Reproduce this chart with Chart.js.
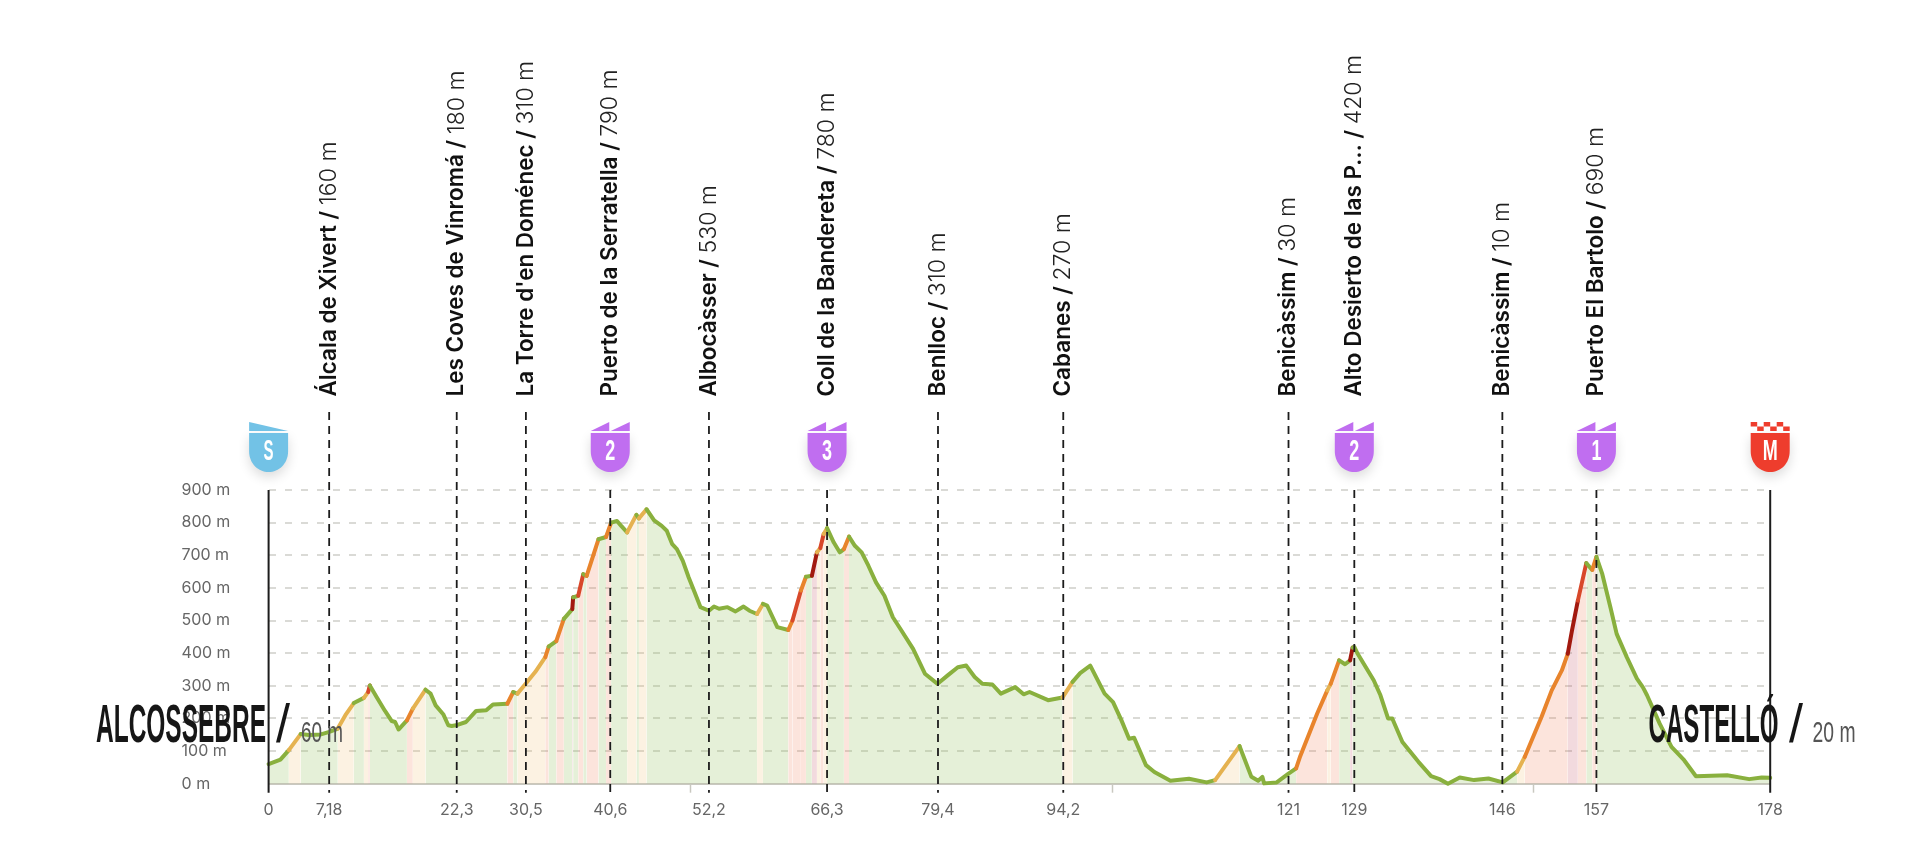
<!DOCTYPE html>
<html>
<head>
<meta charset="utf-8">
<title>Alcossebre - Castelló</title>
<script src="https://cdn.jsdelivr.net/npm/chart.js@4"></script>
<style>
html, body { margin: 0; padding: 0; background: #fff; }
canvas { display: block; }
</style>
</head>
<body>
<canvas id="profile_canvas" width="1920" height="858"></canvas>
<script>
// profile
var profileKm = [0, 1.4, 2.4, 3.8, 4.8, 6.2, 7.2, 8.2, 9.1, 10.1, 11.3, 11.8, 12, 12.8, 13.8, 14.6, 15, 15.4, 16.4, 17.1, 18.6, 19.2, 19.8, 20.7, 21.3, 21.7, 22.2, 23.4, 24.6, 25.8, 26.6, 28.3, 29, 29.5, 30.4, 31.6, 32.8, 33.2, 34.1, 35, 36, 36.1, 36.7, 37.3, 37.7, 39.1, 40, 40.6, 41.3, 41.8, 42.5, 43.6, 43.9, 44.8, 45.7, 46.6, 47.2, 47.85, 48.4, 49.1, 49.8, 50.5, 51.2, 51.4, 52.2, 52.8, 53.4, 54.4, 55.35, 56.3, 57, 57.9, 58.6, 59.1, 60.3, 61.6, 62.1, 63.1, 63.7, 64.4, 65, 65.4, 65.8, 66.2, 67, 67.7, 68.2, 68.8, 69.5, 70.3, 71.1, 72, 73, 74, 74.9, 76.4, 77.8, 79.3, 80.5, 81.7, 82.7, 83.7, 84.6, 85.8, 86.8, 88.5, 89.5, 90.2, 92.4, 94.1, 95.3, 96.2, 97.4, 99.1, 100.1, 101.1, 102, 102.6, 104, 105, 106.9, 109.1, 111.2, 112.2, 115.1, 116.5, 117.3, 117.8, 118, 119.5, 120.9, 121.8, 122.3, 124.3, 125.5, 125.9, 126.9, 127.6, 128.2, 128.5, 128.7, 129.1, 131, 131.8, 132.7, 133.2, 134.4, 136.3, 137.8, 138.8, 139.8, 141.2, 142.9, 144.6, 146.3, 148, 148.9, 150.9, 152.1, 153.3, 154, 154.5, 155.2, 156.2, 156.9, 157.4, 158.1, 159.1, 159.8, 161, 162.2, 162.9, 163.4, 164.9, 166.3, 167.8, 169.2, 172.9, 175.5, 177, 178];
var profileElev = [60, 74, 103, 152, 149, 151, 159, 169, 210, 247, 263, 281, 301, 266, 223, 192, 189, 166, 194, 230, 288, 276, 240, 213, 179, 177, 179, 189, 223, 225, 243, 245, 281, 276, 304, 342, 388, 420, 437, 505, 535, 571, 576, 642, 637, 749, 756, 800, 805, 790, 770, 824, 813, 841, 807, 790, 775, 734, 719, 683, 632, 587, 541, 539, 530, 543, 536, 541, 528, 543, 530, 520, 551, 546, 480, 471, 500, 592, 634, 637, 709, 722, 765, 783, 739, 709, 719, 757, 729, 709, 668, 617, 576, 510, 474, 413, 337, 306, 332, 357, 362, 327, 306, 304, 276, 296, 274, 281, 256, 264, 312, 339, 362, 276, 250, 194, 138, 141, 57, 36, 9, 15, 4, 11, 115, 21, 9, 21, 1, 4, 31, 47, 85, 215, 286, 306, 378, 366, 378, 417, 419, 398, 317, 271, 200, 200, 128, 67, 23, 14, 0, 19, 11, 16, 4, 37, 82, 205, 286, 347, 398, 469, 561, 676, 655, 695, 642, 536, 459, 388, 322, 296, 271, 184, 113, 72, 23, 26, 14, 19, 18];

var waypointKm = [7.18, 22.3, 30.5, 40.5, 52.2, 66.2, 79.35, 94.2, 120.9, 128.7, 146.25, 157.4];
var waypointTicks = ['7,18', '22,3', '30,5', '40,6', '52,2', '66,3', '79,4', '94,2', '121', '129', '146', '157'];
var waypointNames = ['Álcala de Xivert', 'Les Coves de Vinromá', "La Torre d'en Doménec", 'Puerto de la Serratella', 'Albocàsser', 'Coll de la Bandereta', 'Benlloc', 'Cabanes', 'Benicàssim', 'Alto Desierto de las P...', 'Benicàssim', 'Puerto El Bartolo'];
var waypointHeights = ['160 m', '180 m', '310 m', '790 m', '530 m', '780 m', '310 m', '270 m', '30 m', '420 m', '10 m', '690 m'];
var climbCategories = ['', '', '', '2', '', '3', '', '', '', '2', '', '1'];
var plainKmTicks = [50, 100, 150];
var startKm = 0, finishKm = 178, startName = 'ALCOSSEBRE', finishName = 'CASTELLÓ', startHeight = '60 m', finishHeight = '20 m';

var lineGreen = '#89b03e';

// colour by gradient in %, same idea as the site's legend
function gradeOf(ctx) {
    var dk = ctx.p1.parsed.x - ctx.p0.parsed.x;
    return (ctx.p1.parsed.y - ctx.p0.parsed.y) / dk / 10;
}
function lineColor(g) {
    if (g > 12) return '#a2190f';
    if (g > 9) return '#d8482a';
    if (g > 5) return '#e8842c';
    if (g > 3) return '#e5b250';
    return lineGreen;
}
function fillColor(g) {
    if (g > 12) return 'rgba(190,70,90,0.2)';
    if (g > 5) return 'rgba(240,120,80,0.2)';
    if (g > 3) return 'rgba(240,190,110,0.2)';
    return 'rgba(151,195,99,0.25)';
}

// squeeze text to a known width, the original font is much narrower than anything installed
function fitText(ctx, text, x, y, width, font, color) {
    ctx.save();
    ctx.font = font;
    ctx.fillStyle = color;
    ctx.textAlign = 'left';
    ctx.textBaseline = 'alphabetic';
    var w = ctx.measureText(text).width;
    ctx.translate(x, y);
    ctx.scale(width / w, 1);
    ctx.fillText(text, 0, 0);
    ctx.restore();
}

function drawBadge(ctx, cx, letter, kind) {
    var color = kind == 'start' ? '#72c2e6' : kind == 'finish' ? '#ee3d2d' : '#c06ef0';
    var half = 19.5, top = 433, bottom = 472;
    ctx.save();
    ctx.fillStyle = color;
    ctx.shadowColor = 'rgba(0,0,0,0.14)';
    ctx.shadowBlur = 12;
    ctx.shadowOffsetY = 5;
    ctx.beginPath();
    ctx.moveTo(cx - half, top);
    ctx.lineTo(cx + half, top);
    ctx.lineTo(cx + half, bottom - 21);
    ctx.bezierCurveTo(cx + half, bottom - 8, cx + 10, bottom, cx, bottom);
    ctx.bezierCurveTo(cx - 10, bottom, cx - half, bottom - 8, cx - half, bottom - 21);
    ctx.closePath();
    ctx.fill();
    ctx.shadowColor = 'transparent';
    if (kind == 'start') {
        ctx.beginPath();
        ctx.moveTo(cx - half, 422);
        ctx.lineTo(cx + half, 431);
        ctx.lineTo(cx - half, 431);
        ctx.closePath();
        ctx.fill();
    } else if (kind == 'finish') {
        var size = 39 / 6;
        for (var c = 0; c < 6; c++) {
            ctx.fillRect(cx - half + c * size, c % 2 ? 426.5 : 422, size, 4.5);
        }
    } else {
        ctx.beginPath();
        ctx.moveTo(cx - half, 431);
        ctx.lineTo(cx - 1, 422);
        ctx.lineTo(cx - 1, 431);
        ctx.closePath();
        ctx.moveTo(cx + 0.5, 431);
        ctx.lineTo(cx + half, 422);
        ctx.lineTo(cx + half, 431);
        ctx.closePath();
        ctx.fill();
    }
    ctx.restore();
    var w = kind == 'finish' ? 15 : 10;
    fitText(ctx, letter, cx - w / 2, 460, w, 'bold 29px "Liberation Sans"', '#fff');
}

var stagePlugin = {
    id: 'stage',
    afterDatasetsDraw: function (chart) {
        var ctx = chart.ctx, xs = chart.scales.x, ys = chart.scales.y;
        var below = ys.getPixelForValue(0) + 9;
        var top900 = ys.getPixelForValue(900);

        ctx.save();
        ctx.strokeStyle = '#1c1c1c';
        ctx.lineWidth = 2;
        [startKm, finishKm].forEach(function (km) {
            var px = xs.getPixelForValue(km);
            ctx.beginPath();
            ctx.moveTo(px, top900);
            ctx.lineTo(px, below);
            ctx.stroke();
        });
        ctx.lineWidth = 1.8;
        ctx.setLineDash([8, 6]);
        waypointKm.forEach(function (km, i) {
            var px = xs.getPixelForValue(km);
            ctx.beginPath();
            ctx.moveTo(px, climbCategories[i] ? top900 : 412);
            ctx.lineTo(px, below);
            ctx.stroke();
        });
        ctx.restore();

        // rotated names above the dashed lines
        waypointKm.forEach(function (km, i) {
            var px = xs.getPixelForValue(km);
            ctx.save();
            ctx.translate(px, 396.5);
            ctx.rotate(-Math.PI / 2);
            ctx.textAlign = 'left';
            ctx.textBaseline = 'middle';
            ctx.fillStyle = '#111';
            ctx.font = '600 22.5px Inter';
            var name = waypointNames[i] + ' / ';
            ctx.fillText(name, 0, 0);
            var w = ctx.measureText(name).width;
            ctx.font = '300 23px Inter';
            ctx.fillStyle = '#222';
            ctx.fillText(waypointHeights[i], w, 0);
            ctx.restore();
            if (climbCategories[i]) drawBadge(ctx, px, climbCategories[i], 'climb');
        });

        drawBadge(ctx, xs.getPixelForValue(startKm), 'S', 'start');
        drawBadge(ctx, xs.getPixelForValue(finishKm), 'M', 'finish');

        var cityFont = 'bold 53px "Liberation Sans"', slashFont = '53px "Liberation Sans"', heightFont = '30px "Liberation Sans"';
        fitText(ctx, startName, 96, 741.7, 170, cityFont, '#161616');
        fitText(ctx, '/', 276, 741.7, 14, slashFont, '#161616');
        fitText(ctx, startHeight, 301, 741.7, 42, heightFont, '#555');
        fitText(ctx, finishName, 1648.5, 741.7, 130, cityFont, '#161616');
        fitText(ctx, '/', 1789, 741.7, 14, slashFont, '#161616');
        fitText(ctx, finishHeight, 1812.5, 741.7, 43, heightFont, '#555');
    }
};

var profileData = profileKm.map(function (km, i) {
    return { x: km, y: profileElev[i] };
});

var chart = new Chart(document.getElementById('profile_canvas'), {
    type: 'line',
    data: {
        datasets: [{
            label: 'Elevation',
            data: profileData,
            borderColor: lineGreen,
            borderWidth: 4,
            borderJoinStyle: 'round',
            borderCapStyle: 'round',
            pointRadius: 0,
            tension: 0,
            fill: 'origin',
            backgroundColor: 'rgba(151,195,99,0.25)',
            clip: false,
            segment: {
                borderColor: function (ctx) { return lineColor(gradeOf(ctx)); },
                backgroundColor: function (ctx) { return fillColor(gradeOf(ctx)); }
            }
        }]
    },
    plugins: [stagePlugin],
    options: {
        responsive: false,
        animation: false,
        layout: { padding: { left: 181.6, right: 149.8, top: 490, bottom: 33.3 } },
        plugins: { legend: { display: false }, tooltip: { enabled: false } },
        scales: {
            x: {
                type: 'linear',
                min: startKm,
                max: finishKm,
                afterBuildTicks: function (axis) {
                    axis.ticks = [startKm].concat(waypointKm, plainKmTicks, [finishKm]).sort(function (a, b) {
                        return a - b;
                    }).map(function (v) { return { value: v }; });
                },
                afterFit: function (axis) { axis.height = 41; },
                border: { color: '#c9c8c0', width: 2 },
                grid: {
                    drawOnChartArea: false,
                    tickLength: 9,
                    tickWidth: 1.5,
                    tickColor: function (ctx) {
                        return plainKmTicks.indexOf(ctx.tick.value) >= 0 ? '#c9c8c0' : 'rgba(0,0,0,0)';
                    }
                },
                ticks: {
                    autoSkip: false,
                    maxRotation: 0,
                    minRotation: 0,
                    padding: 8,
                    color: '#666',
                    font: { family: 'Inter', size: 16 },
                    callback: function (v) {
                        if (v === startKm || v === finishKm) return String(v);
                        var i = waypointKm.indexOf(v);
                        return i >= 0 ? waypointTicks[i] : '';
                    }
                }
            },
            y: {
                min: 0,
                max: 900,
                afterFit: function (axis) { axis.width = 87; },
                border: { display: false, dash: [7, 9] },
                grid: {
                    color: function (ctx) { return ctx.tick.value === 0 ? 'rgba(0,0,0,0)' : '#dadad6'; },
                    lineWidth: 2,
                    drawTicks: false
                },
                ticks: {
                    stepSize: 100,
                    crossAlign: 'far',
                    padding: 0,
                    color: '#666',
                    font: { family: 'Inter', size: 16 },
                    callback: function (v) { return v + ' m'; }
                }
            }
        }
    }
});
</script>
</body>
</html>
